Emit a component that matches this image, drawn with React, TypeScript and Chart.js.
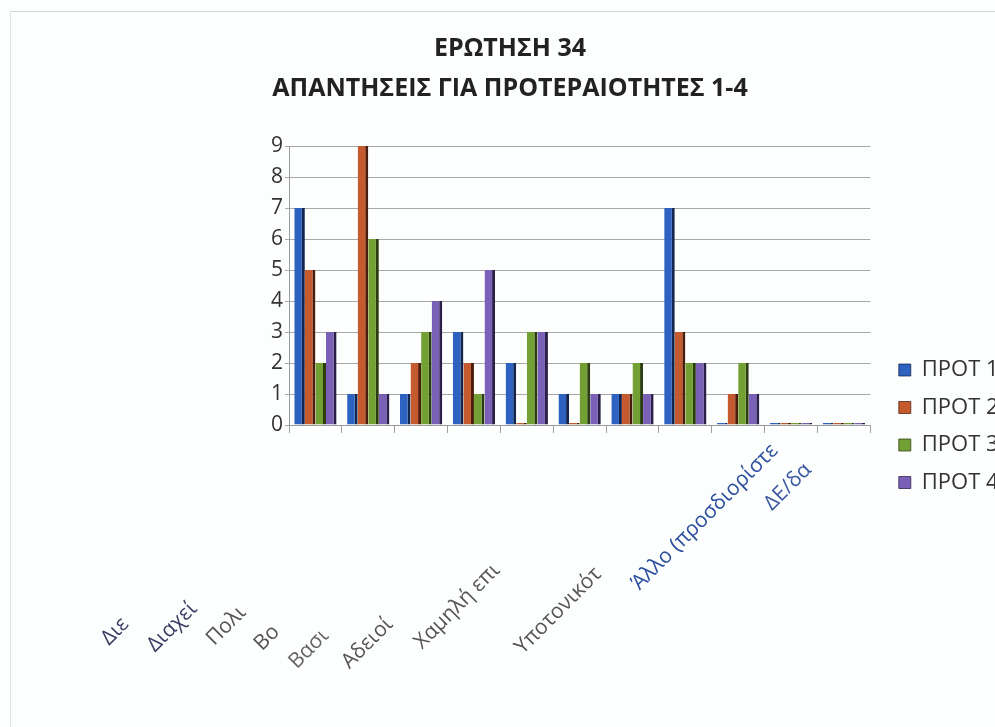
import React, { useEffect, useRef } from 'react';
import { Chart, registerables } from 'chart.js';

Chart.register(...registerables);

const titleLines = ['ΕΡΩΤΗΣΗ 34', 'ΑΠΑΝΤΗΣΕΙΣ ΓΙΑ ΠΡΟΤΕΡΑΙΟΤΗΤΕΣ 1-4'];
const categories = ['Διε', 'Διαχεί', 'Πολι', 'Βο', 'Βασι', 'Αδειοί', 'Χαμηλή επι', '', 'Υποτονικότ', 'Άλλο (προσδιορίστε', 'ΔΕ/δα'];
const seriesNames = ['ΠΡΟΤ 1', 'ΠΡΟΤ 2', 'ΠΡΟΤ 3', 'ΠΡΟΤ 4'];
const prot1 = [7, 1, 1, 3, 2, 1, 1, 7, 0, 0, 0];
const prot2 = [5, 9, 2, 2, 0, 0, 1, 3, 1, 0, 0];
const prot3 = [2, 6, 3, 1, 3, 2, 2, 2, 2, 0, 0];
const prot4 = [3, 1, 4, 5, 3, 1, 1, 2, 1, 0, 0];
const yMin = 0;
const yMax = 9;

// styles
const seriesColors = ['#2d62c0', '#c45a2e', '#72a033', '#7a60b6'];
const seriesEdge = ['#14264e', '#4a1c0c', '#2b3d10', '#2a1f48'];
const labelColors = ['#3b3d63', '#3b3d63', '#555555', '#555555', '#666666', '#555555', '#555555', '#555555', '#555555', '#2b4f9e', '#3a5aa0'];
const labelShift = [267, 245, 249, 279, 283, 267, 191, 0, 194, 24, 50];
const FONT = '"Open Sans", "Noto Sans", sans-serif';
const xLabelSize = 21;
const legendSize = 22;
const legendTextSlot = 90;

export default function App() {
  const ref = useRef<HTMLCanvasElement | null>(null);

  useEffect(() => {
    if (!ref.current) return;
    const mctx = document.createElement('canvas').getContext('2d')!;
    mctx.font = `${xLabelSize}px ${FONT}`;
    const spaceW = mctx.measureText('\u00A0').width || 5.5;
    mctx.font = `${legendSize}px ${FONT}`;
    const legendSpaceW = mctx.measureText('\u00A0').width || 5.7;

    const series = [prot1, prot2, prot3, prot4];
    const chart = new Chart(ref.current, {
      type: 'bar',
      data: {
        labels: categories,
        datasets: series.map((d, i) => ({
          label: seriesNames[i],
          data: d,
          backgroundColor: seriesColors[i],
          borderColor: seriesEdge[i],
          borderWidth: { top: 0, right: 3, bottom: 0, left: 0 },
          borderSkipped: false,
          minBarLength: 2,
          categoryPercentage: 0.8,
          barPercentage: 1.0,
        })),
      },
      options: {
        animation: false,
        responsive: false,
        maintainAspectRatio: false,
        layout: { padding: { left: 0, right: 20, top: 0, bottom: 0 } },
        plugins: {
          title: {
            display: true,
            text: titleLines,
            color: '#222222',
            font: { family: FONT, size: 25, weight: 'bold', lineHeight: 40 / 25 },
            padding: { top: 29, bottom: 37 },
          },
          legend: {
            position: 'right',
            title: { display: true, text: ' ', font: { size: 10 }, padding: { top: 113.5, bottom: 0 } },
            labels: {
              boxWidth: 12,
              boxHeight: 12,
              padding: 15.5,
              color: '#333333',
              font: { family: FONT, size: legendSize },
              generateLabels: (c: any) => {
                const items = Chart.defaults.plugins.legend.labels.generateLabels(c);
                items.forEach((it: any) => {
                  const w = mctx.measureText(it.text).width;
                  const n = Math.max(0, Math.round((legendTextSlot - w) / legendSpaceW));
                  it.text = it.text + '\u00A0'.repeat(n);
                });
                return items;
              },
            },
          },
          tooltip: { enabled: false },
        },
        scales: {
          x: {
            afterFit: (s: any) => {
              s.height = 302;
            },
            grid: {
              display: true,
              drawOnChartArea: false,
              drawTicks: true,
              tickLength: 8,
              color: '#a0a0a0',
              offset: true,
            },
            border: { display: true, color: '#9a9a9a' },
            ticks: {
              autoSkip: false,
              maxRotation: 45,
              minRotation: 45,
              padding: -10,
              labelOffset: -1,
              font: { family: FONT, size: xLabelSize },
              color: (c: any) => labelColors[c.index] || '#555555',
              callback: (_v: any, i: number) =>
                categories[i] + '\u00A0'.repeat(Math.max(0, Math.round(labelShift[i] / spaceW))),
            },
          },
          y: {
            min: yMin,
            max: yMax,
            afterFit: (s: any) => {
              s.width = 289;
            },
            ticks: {
              stepSize: 1,
              padding: 2,
              color: '#333333',
              font: { family: FONT, size: 21 },
            },
            grid: { color: '#a8a8a8', tickLength: 4 },
            border: { display: true, color: '#9a9a9a' },
          },
          y2: {
            position: 'right',
            display: true,
            grid: { display: false },
            border: { display: false },
            ticks: { display: false },
            afterFit: (s: any) => {
              s.width = 13;
            },
          },
        },
      },
    });
    return () => chart.destroy();
  }, []);

  return (
    <div style={{ position: 'fixed', left: 0, top: 0, width: 995, height: 727, overflow: 'hidden', background: '#fdfefe' }}>
      <div style={{ position: 'absolute', left: 10, top: 11, width: 990, height: 720, borderTop: '1px solid #d6d8d8', borderLeft: '1px solid #e2e4e4' }} />
      <canvas ref={ref} width={1040} height={727} style={{ position: 'absolute', left: 0, top: 0, width: 1040, height: 727 }} />
    </div>
  );
}
